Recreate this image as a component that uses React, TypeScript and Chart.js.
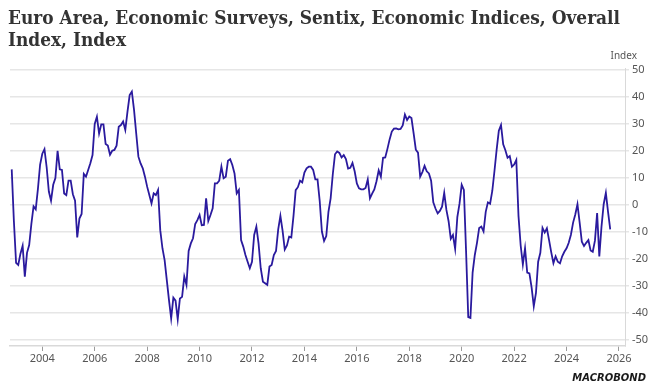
import React, { useEffect, useRef } from 'react';
import { Chart, registerables } from 'chart.js';

Chart.register(...registerables);

// ---- Data (monthly, starting November 2002) ----
const START_YEAR = 2002;
const START_MONTH = 11;

const v2002 = [13.2, -6];
const v2003 = [-21.4, -22.2, -18, -15.1, -26.5, -17.7, -14.8, -7, -0.5, -1.6, 6, 15];
const v2004 = [19, 20.7, 14, 5, 1.6, 7.5, 10, 20.1, 13.2, 13, 4.3, 3.7];
const v2005 = [9, 9, 4, 1.6, -12, -5, -3.3, 11.5, 10.5, 13, 15.5, 18.5];
const v2006 = [30, 32.7, 26.5, 29.9, 29.9, 22.6, 22, 18.6, 20.1, 20.4, 22, 29];
const v2007 = [29.6, 30.9, 27.8, 34.6, 40.7, 42, 35.2, 26.5, 17.9, 15.4, 13.6, 10.5];
const v2008 = [6.8, 3.7, 0.6, 4.3, 3.7, 5.6, -9.3, -16, -20.4, -27.8, -35.2, -42];
const v2009 = [-34.3, -35.4, -42.3, -34.6, -34, -26.5, -29.6, -17, -14.2, -12.3, -7, -5.6];
const v2010 = [-3.7, -7.5, -7.4, 2.5, -5.9, -3.7, -1.2, 8, 8, 9, 14.2, 9.9];
const v2011 = [10.5, 16.4, 17, 14.8, 11.7, 4.3, 5.6, -13, -15.4, -18.5, -21, -23.4];
const v2012 = [-21, -11.1, -8, -14.2, -23.4, -28.4, -29, -29.6, -22.8, -22.2, -18.5, -17];
const v2013 = [-9, -4, -9.5, -16.5, -15, -11.7, -12, -4, 5.5, 6.6, 9, 8.4];
const v2014 = [12, 13.6, 14.2, 14.2, 13, 9.5, 9.5, 1.5, -9.8, -13.3, -11.5, -2.5];
const v2015 = [2.5, 11.5, 18.8, 19.8, 19.3, 17.6, 18.5, 17, 13.5, 13.8, 15.6, 12.5];
const v2016 = [8, 6.2, 5.8, 5.8, 6.3, 9.5, 2.5, 4.2, 5.8, 8.8, 12.8, 10.5];
const v2017 = [17.5, 17.6, 20.8, 24.3, 27.2, 28.3, 28.4, 28, 28.2, 29.5, 33.5, 31.5];
const v2018 = [32.8, 32.2, 26.5, 20.5, 19.4, 10.5, 12.2, 14.5, 12.5, 11.7, 9, 1];
const v2019 = [-1.3, -3.1, -2.2, -0.6, 4.5, -1.8, -6, -12.5, -11.1, -16.2, -4.5, 0.5];
const v2020 = [7.5, 5.6, -17, -41.5, -41.8, -25, -18.5, -14, -8.5, -8, -9.8, -2.5];
const v2021 = [1, 0.5, 5.2, 12.6, 20.5, 27.5, 29.6, 22.5, 20.3, 17.5, 18.1, 14.2];
const v2022 = [15, 16.7, -4, -15, -22, -16, -25, -25.3, -30.5, -37.5, -32.5, -21];
const v2023 = [-17.7, -8.5, -10.2, -8.6, -13, -17.5, -21.5, -19, -21, -21.6, -19, -17.3];
const v2024 = [-16, -14, -11, -6.5, -3.5, 0.3, -6.5, -13.6, -15.2, -14, -13, -16.8];
const v2025 = [-17.3, -13.2, -3, -19, -8, 0.3, 4.5, -2.5, -9];

const xTickYears = [2004, 2006, 2008, 2010, 2012, 2014, 2016, 2018, 2020, 2022, 2024, 2026];
const yTickValues = [-50, -40, -30, -20, -10, 0, 10, 20, 30, 40, 50];

const TITLE_LINES = ['Euro Area, Economic Surveys, Sentix, Economic Indices, Overall', 'Index, Index'];
const UNIT_LABEL = 'Index';
const LOGO_TEXT = 'MACROBOND';

const allValues = [
  ...v2002, ...v2003, ...v2004, ...v2005, ...v2006, ...v2007, ...v2008, ...v2009,
  ...v2010, ...v2011, ...v2012, ...v2013, ...v2014, ...v2015, ...v2016, ...v2017,
  ...v2018, ...v2019, ...v2020, ...v2021, ...v2022, ...v2023, ...v2024, ...v2025,
];

const points = allValues.map((v, i) => ({
  x: START_YEAR + (START_MONTH - 1 + i) / 12,
  y: v,
}));

const textPlugin = {
  id: 'extraTexts',
  afterDraw(chart: any) {
    const ctx = chart.ctx as CanvasRenderingContext2D;
    ctx.save();
    // Title
    ctx.fillStyle = '#333333';
    ctx.textAlign = 'left';
    ctx.textBaseline = 'alphabetic';
    ctx.font = 'bold 19px "DejaVu Serif"';
    const target = 612;
    const w = ctx.measureText(TITLE_LINES[0]).width;
    const sx = w > target ? target / w : 1;
    ctx.save();
    ctx.translate(8, 0);
    ctx.scale(sx, 1);
    ctx.fillText(TITLE_LINES[0], 0, 24);
    ctx.fillText(TITLE_LINES[1], 0, 46);
    ctx.restore();

    // Unit label
    ctx.fillStyle = '#555555';
    ctx.font = '10px "Noto Sans"';
    ctx.textAlign = 'right';
    ctx.fillText(UNIT_LABEL, 637, 59);

    // Logo
    ctx.fillStyle = '#1a1a1a';
    ctx.font = 'bold italic 10px "DejaVu Sans"';
    ctx.textAlign = 'right';
    ctx.fillText(LOGO_TEXT, 646, 381);
    ctx.restore();
  },
};

export default function App() {
  const canvasRef = useRef<HTMLCanvasElement | null>(null);

  useEffect(() => {
    if (!canvasRef.current) return;
    const chart = new Chart(canvasRef.current, {
      type: 'line',
      data: {
        datasets: [
          {
            data: points,
            borderColor: '#2a1a9e',
            borderWidth: 1.8,
            pointRadius: 0,
            tension: 0,
            fill: false,
          },
        ],
      },
      options: {
        responsive: false,
        animation: false,
        parsing: false as any,
        layout: { padding: { left: 10, top: 68, right: 0, bottom: 0 } },
        plugins: {
          legend: { display: false },
          tooltip: { enabled: false },
          title: { display: false },
        },
        scales: {
          x: {
            type: 'linear',
            min: 2002.768,
            max: 2026.23,
            afterBuildTicks: (s: any) => {
              s.ticks = xTickYears.map((v) => ({ value: v }));
            },
            afterFit: (s: any) => {
              s.height = 42;
            },
            grid: { drawOnChartArea: false, drawTicks: true, tickLength: 5, color: '#9a9a9a', lineWidth: 1 },
            border: { display: true, color: '#d9d9d9', width: 1.5 },
            ticks: {
              callback: (v: any) => String(v),
              color: '#555555',
              font: { family: '"Noto Sans"', size: 11 },
              padding: 1,
              maxRotation: 0,
              autoSkip: false,
            },
          },
          y: {
            position: 'right',
            min: -52.2,
            max: 50.74,
            afterBuildTicks: (s: any) => {
              s.ticks = yTickValues.map((v) => ({ value: v }));
            },
            afterFit: (s: any) => {
              s.width = 27;
            },
            grid: { color: '#e6e6e6', lineWidth: 1.5, drawTicks: true, tickLength: 4 },
            border: { display: true, color: '#d9d9d9', width: 1 },
            ticks: {
              color: '#555555',
              font: { family: '"Noto Sans"', size: 11 },
              padding: 3,
            },
          },
        },
      },
      plugins: [textPlugin],
    });
    return () => chart.destroy();
  }, []);

  return (
    <div style={{ position: 'absolute', left: 0, top: 0, width: 652, height: 388, background: '#fff' }}>
      <canvas ref={canvasRef} width={652} height={388} style={{ display: 'block', width: 652, height: 388 }} />
    </div>
  );
}
